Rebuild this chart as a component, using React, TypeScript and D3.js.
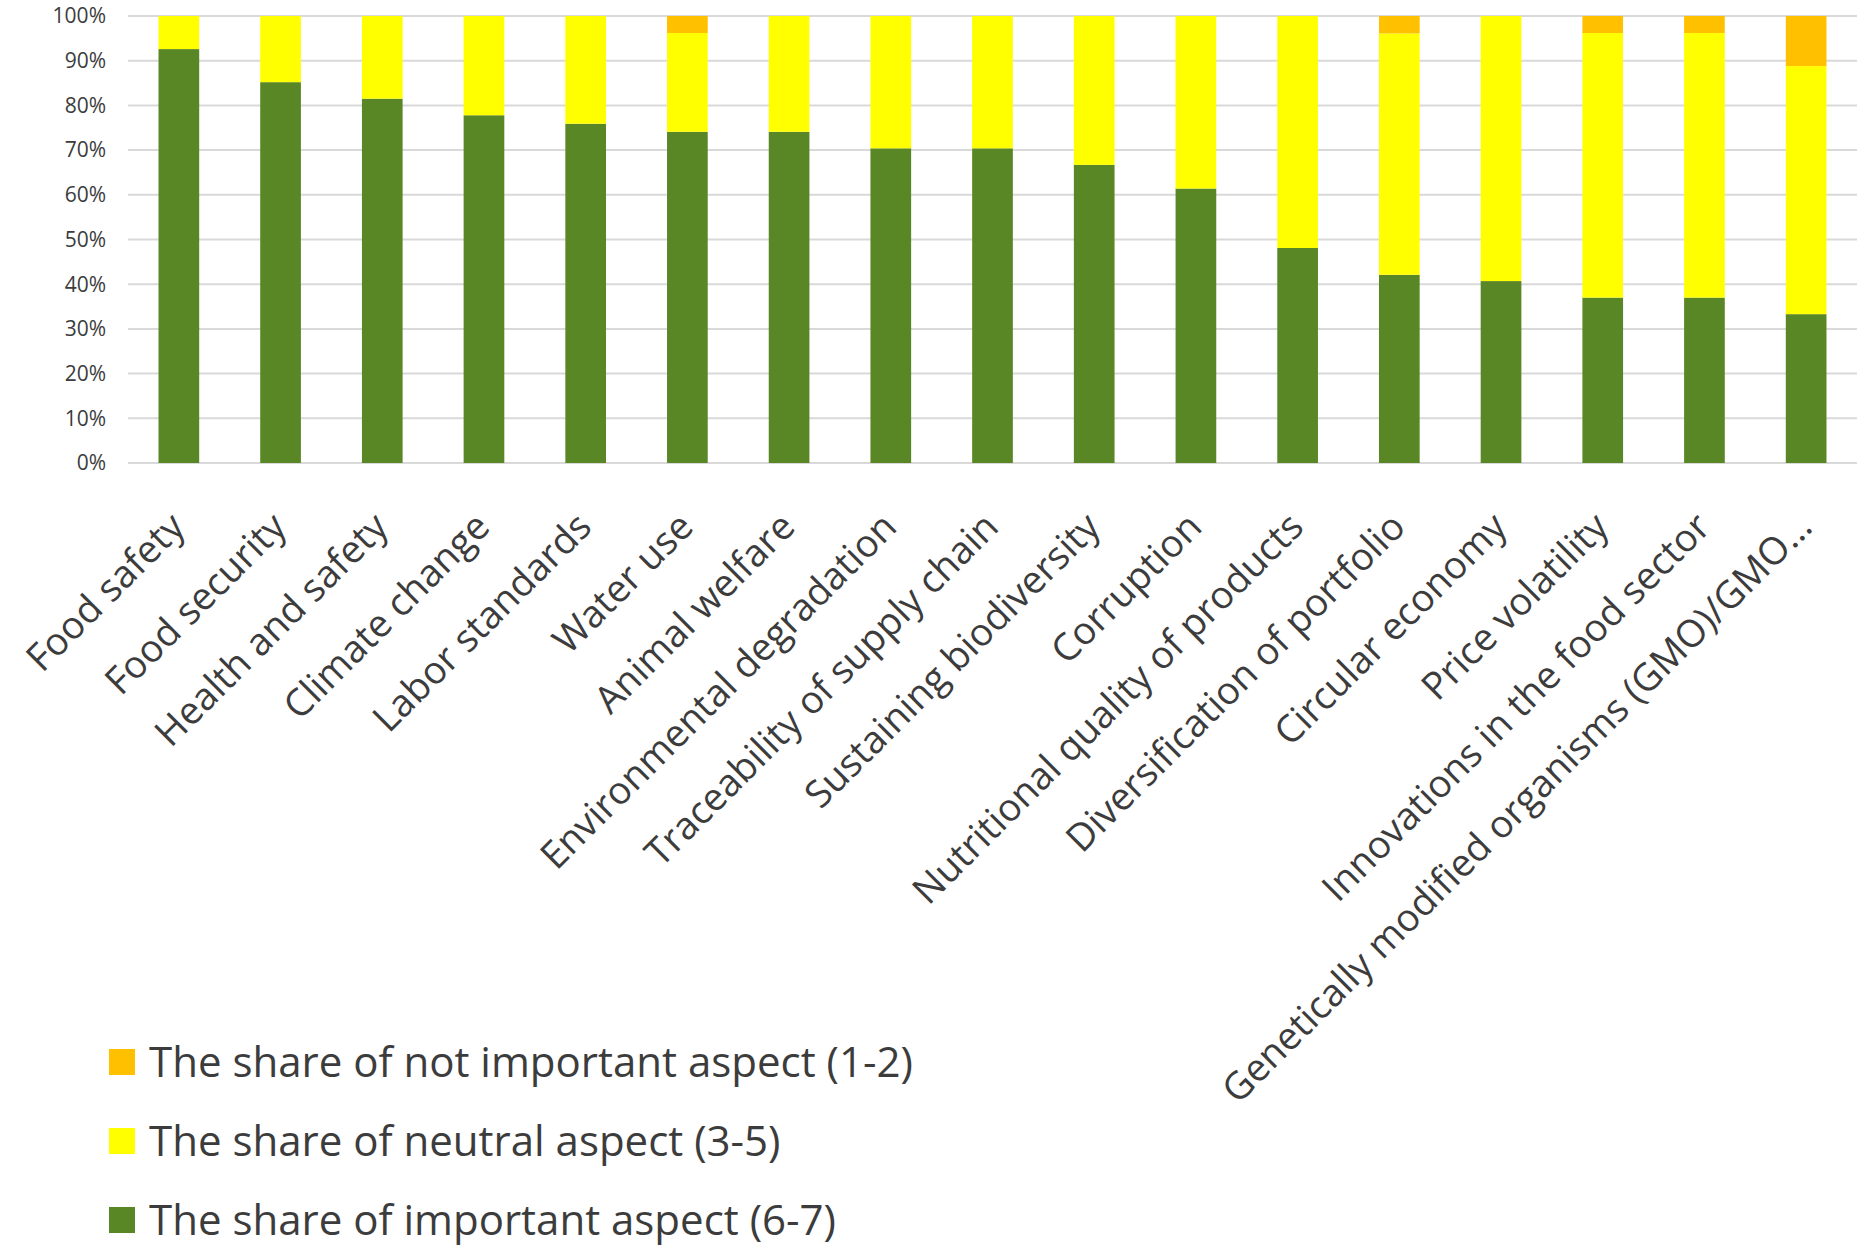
import React, { useRef, useEffect } from "react";
import * as d3 from "d3";

const categories = [
  "Food safety",
  "Food security",
  "Health and safety",
  "Climate change",
  "Labor standards",
  "Water use",
  "Animal welfare",
  "Environmental degradation",
  "Traceability of supply chain",
  "Sustaining biodiversity",
  "Corruption",
  "Nutritional quality of products",
  "Diversification of portfolio",
  "Circular economy",
  "Price volatility",
  "Innovations in the food sector",
  "Genetically modified organisms (GMO)/GMO…",
];

// shares in percent
const important = [92.6, 85.2, 81.5, 77.8, 75.9, 74.1, 74.1, 70.4, 70.4, 66.7, 61.4, 48.1, 42.1, 40.7, 37.0, 37.0, 33.3];
const neutral = [7.4, 14.8, 18.5, 22.2, 24.1, 22.1, 25.9, 29.6, 29.6, 33.3, 38.6, 51.9, 54.0, 59.3, 59.2, 59.2, 55.5];
const notImportant = [0, 0, 0, 0, 0, 3.8, 0, 0, 0, 0, 0, 0, 3.9, 0, 3.8, 3.8, 11.2];

const yTicks = [0, 10, 20, 30, 40, 50, 60, 70, 80, 90, 100];

const seriesKeys = ["important", "neutral", "notImportant"];
const seriesColors: Record<string, string> = {
  important: "#5a8725",
  neutral: "#ffff00",
  notImportant: "#ffc000",
};
const legendItems = [
  { key: "notImportant", label: "The share of not important aspect (1-2)" },
  { key: "neutral", label: "The share of neutral aspect (3-5)" },
  { key: "important", label: "The share of important aspect (6-7)" },
];

const width = 1864;
const height = 1249;
const font = "'Open Sans', 'Noto Sans', sans-serif";
const textColor = "#3c3c3c";

const App = () => {
  const ref = useRef<SVGSVGElement>(null);

  useEffect(() => {
    if (!ref.current) return;
    const svg = d3.select(ref.current);
    svg.selectAll("*").remove();

    const plotLeft = 128;
    const plotRight = 1857;
    const plotTop = 16;
    const plotBottom = 463;

    const rows = categories.map((c, i) => ({
      category: c,
      important: important[i],
      neutral: neutral[i],
      notImportant: notImportant[i],
    }));

    const x = d3
      .scaleBand()
      .domain(categories)
      .range([plotLeft, plotRight])
      .paddingInner(0.6)
      .paddingOuter(0.3);

    const y = d3.scaleLinear().domain([0, 100]).range([plotBottom, plotTop]);

    // gridlines
    svg
      .append("g")
      .selectAll("line")
      .data(yTicks)
      .enter()
      .append("line")
      .attr("x1", plotLeft)
      .attr("x2", plotRight)
      .attr("y1", (d) => y(d))
      .attr("y2", (d) => y(d))
      .attr("stroke", "#d9d9d9")
      .attr("stroke-width", 2);

    // y tick labels
    svg
      .append("g")
      .selectAll("text")
      .data(yTicks)
      .enter()
      .append("text")
      .attr("x", 106)
      .attr("y", (d) => y(d))
      .attr("dy", "0.35em")
      .attr("text-anchor", "end")
      .attr("font-family", font)
      .attr("font-size", 21)
      .attr("fill", textColor)
      .text((d) => `${d}%`);

    // stacked bars
    const stacked = d3.stack<any>().keys(seriesKeys)(rows);
    svg
      .append("g")
      .selectAll("g")
      .data(stacked)
      .enter()
      .append("g")
      .attr("fill", (s) => seriesColors[s.key])
      .selectAll("rect")
      .data((s) => s)
      .enter()
      .append("rect")
      .attr("x", (d: any) => x(d.data.category) ?? 0)
      .attr("width", x.bandwidth())
      .attr("y", (d) => y(d[1]))
      .attr("height", (d) => y(d[0]) - y(d[1]));

    // category labels, rotated
    svg
      .append("g")
      .selectAll("text")
      .data(categories)
      .enter()
      .append("text")
      .attr("transform", (d) => {
        const cx = (x(d) ?? 0) + x.bandwidth() / 2 + 8;
        return `translate(${cx},${plotBottom + 66}) rotate(-45)`;
      })
      .attr("text-anchor", "end")
      .attr("font-family", font)
      .attr("font-size", 38)
      .attr("fill", textColor)
      .text((d) => d);

    // legend
    const legend = svg
      .append("g")
      .selectAll("g")
      .data(legendItems)
      .enter()
      .append("g")
      .attr("transform", (_, i) => `translate(109,${1062 + i * 79})`);
    legend
      .append("rect")
      .attr("x", 0)
      .attr("y", -13)
      .attr("width", 26)
      .attr("height", 26)
      .attr("fill", (d) => seriesColors[d.key]);
    legend
      .append("text")
      .attr("x", 40)
      .attr("y", 0)
      .attr("dy", "0.35em")
      .attr("font-family", font)
      .attr("font-size", 42)
      .attr("fill", textColor)
      .text((d) => d.label);
  }, []);

  return (
    <div style={{ position: "absolute", left: 0, top: 0 }}>
      <svg ref={ref} width={width} height={height} style={{ display: "block", background: "#fff" }} />
    </div>
  );
};

export default App;
